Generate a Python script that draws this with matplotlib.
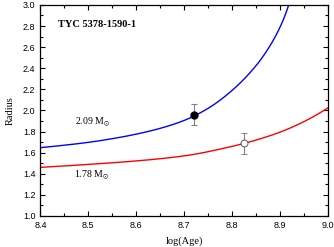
import matplotlib
matplotlib.use("Agg")
import matplotlib.pyplot as plt
import numpy as np
from matplotlib.ticker import MultipleLocator, FormatStrFormatter

plt.rcParams["mathtext.fontset"] = "stix"

# Blue track (2.09 Msun)
blue_age = [8.40, 8.45, 8.50, 8.55, 8.60, 8.65, 8.70, 8.75, 8.80, 8.85, 8.88, 8.90, 8.914, 8.918]
blue_rad = [1.647, 1.670, 1.697, 1.732, 1.775, 1.830, 1.905, 2.02, 2.19, 2.425, 2.62, 2.79, 2.945, 3.0]
# Red track (1.78 Msun)
red_age = [8.40, 8.50, 8.60, 8.70, 8.80, 8.85, 8.90, 8.95, 9.00]
red_rad = [1.46, 1.488, 1.521, 1.569, 1.659, 1.719, 1.794, 1.894, 2.024]

# Observed points
obs_age = [8.72, 8.825]
obs_rad = [1.96, 1.69]
obs_err = [0.10, 0.10]


def pchip(x, y, n=400):
    x = np.asarray(x, float)
    y = np.asarray(y, float)
    h = np.diff(x)
    d = np.diff(y) / h
    m = np.zeros_like(y)
    for k in range(1, len(x) - 1):
        if d[k - 1] * d[k] > 0:
            w1 = 2 * h[k] + h[k - 1]
            w2 = h[k] + 2 * h[k - 1]
            m[k] = (w1 + w2) / (w1 / d[k - 1] + w2 / d[k])
    m[0] = ((2 * h[0] + h[1]) * d[0] - h[0] * d[1]) / (h[0] + h[1])
    m[-1] = ((2 * h[-1] + h[-2]) * d[-1] - h[-1] * d[-2]) / (h[-1] + h[-2])
    xs = np.linspace(x[0], x[-1], n)
    idx = np.clip(np.searchsorted(x, xs) - 1, 0, len(x) - 2)
    t = (xs - x[idx]) / h[idx]
    h00 = 2 * t**3 - 3 * t**2 + 1
    h10 = t**3 - 2 * t**2 + t
    h01 = -2 * t**3 + 3 * t**2
    h11 = t**3 - t**2
    ys = h00 * y[idx] + h10 * h[idx] * m[idx] + h01 * y[idx + 1] + h11 * h[idx] * m[idx + 1]
    return xs, ys


fig = plt.figure(figsize=(3.34, 2.47), dpi=100)
ax = fig.add_axes([0.121, 0.126, 0.861, 0.854])

bx, by = pchip(blue_age, blue_rad)
rx, ry = pchip(red_age, red_rad)
ax.plot(bx, by, color="#0000ff", lw=1.0)
ax.plot(rx, ry, color="#ff0000", lw=1.0)

ax.errorbar(obs_age[0], obs_rad[0], yerr=obs_err[0], fmt="o", color="black",
            ms=5, ecolor="#808080", elinewidth=0.8, capsize=2, capthick=0.8, zorder=5)
ax.errorbar(obs_age[1], obs_rad[1], yerr=obs_err[1], fmt="o", mfc="white", mec="#555555",
            ms=5, mew=0.7, ecolor="#808080", elinewidth=0.8, capsize=2, capthick=0.8, zorder=5)

ax.set_xlim(8.4, 9.0)
ax.set_ylim(1.0, 3.0)
ax.xaxis.set_major_locator(MultipleLocator(0.1))
ax.xaxis.set_minor_locator(MultipleLocator(0.05))
ax.yaxis.set_major_locator(MultipleLocator(0.2))
ax.yaxis.set_minor_locator(MultipleLocator(0.1))
ax.xaxis.set_major_formatter(FormatStrFormatter("%.1f"))
ax.yaxis.set_major_formatter(FormatStrFormatter("%.1f"))
ax.tick_params(which="both", direction="in", top=True, right=True, labelsize=6.5,
               width=0.8, colors="black")
ax.tick_params(which="major", length=3.5)
ax.tick_params(which="minor", length=2)
for lab in ax.get_xticklabels() + ax.get_yticklabels():
    lab.set_fontfamily("Liberation Sans")
for s in ax.spines.values():
    s.set_linewidth(0.9)

ax.set_xlabel("log(Age)", fontfamily="Liberation Serif", fontsize=7.5, labelpad=5)
ax.set_ylabel("Radius", fontfamily="Liberation Serif", fontsize=7.5, labelpad=6)

ax.text(8.437, 2.81, "TYC 5378-1590-1", fontfamily="Liberation Serif", fontweight="bold",
        fontsize=7.5, va="center", ha="left")
ax.text(8.472, 1.885, r"2.09 M$_{\odot}$", fontfamily="Liberation Serif", fontsize=7,
        va="center", ha="left")
ax.text(8.470, 1.38, r"1.78 M$_{\odot}$", fontfamily="Liberation Serif", fontsize=7,
        va="center", ha="left")

fig.savefig("out.png", dpi=100)
